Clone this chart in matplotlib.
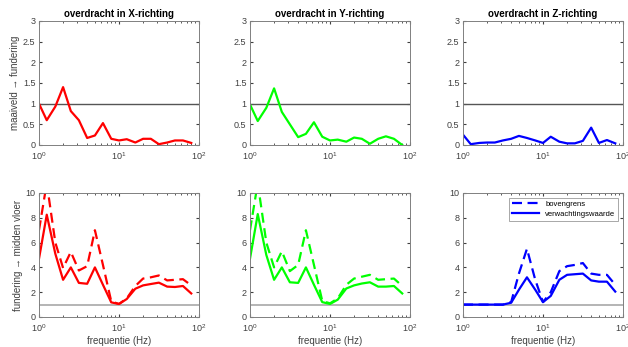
import matplotlib.pyplot as plt

plt.rcParams['font.family'] = ['Liberation Sans', 'DejaVu Sans']

# third-octave band centre frequencies (Hz)
freq = [1, 1.25, 1.6, 2, 2.5, 3.15, 4, 5, 6.3, 8, 10, 12.5, 16, 20, 25, 31.5, 40, 50, 63, 80]

# maaiveld -> fundering
top_x = [1.0, 0.6, 0.93, 1.4, 0.82, 0.6, 0.17, 0.23, 0.53, 0.15, 0.11, 0.14, 0.06, 0.15, 0.15, 0.02, 0.06, 0.11, 0.11, 0.05]
top_y = [0.98, 0.58, 0.9, 1.37, 0.8, 0.5, 0.19, 0.27, 0.55, 0.2, 0.11, 0.13, 0.08, 0.18, 0.15, 0.03, 0.15, 0.21, 0.15, 0.0]
top_z = [0.25, 0.02, 0.05, 0.06, 0.06, 0.11, 0.15, 0.22, 0.17, 0.11, 0.05, 0.2, 0.08, 0.04, 0.04, 0.1, 0.42, 0.05, 0.12, 0.04]

# fundering -> midden vloer: verwachtingswaarde (solid) and bovengrens (dashed)
verw_x = [4.7, 8.25, 5.1, 3.0, 4.0, 2.75, 2.68, 4.0, 2.6, 1.18, 1.05, 1.45, 2.28, 2.55, 2.66, 2.77, 2.45, 2.42, 2.5, 1.9]
bov_x = [7.0, 10.8, 6.0, 3.95, 5.25, 3.75, 4.1, 7.0, 4.2, 1.26, 1.05, 1.5, 2.5, 3.1, 3.2, 3.35, 2.95, 3.0, 3.05, 2.55]
verw_y = [4.7, 8.3, 5.0, 3.0, 4.0, 2.8, 2.75, 4.0, 2.6, 1.2, 1.05, 1.4, 2.3, 2.55, 2.7, 2.8, 2.45, 2.45, 2.5, 1.9]
bov_y = [7.0, 10.8, 6.0, 4.0, 5.3, 3.7, 4.2, 7.0, 4.2, 1.3, 1.1, 1.5, 2.6, 3.1, 3.25, 3.4, 3.0, 3.05, 3.1, 2.5]
verw_z = [1.0, 1.0, 1.0, 1.0, 1.0, 1.0, 1.15, 2.2, 3.2, 2.2, 1.2, 1.7, 3.0, 3.4, 3.45, 3.5, 2.95, 2.85, 2.85, 2.05]
bov_z = [1.0, 1.0, 1.0, 1.0, 1.0, 1.0, 1.2, 3.5, 5.5, 3.0, 1.2, 2.0, 3.7, 4.1, 4.2, 4.35, 3.5, 3.4, 3.4, 2.6]

titles = ['overdracht in X-richting', 'overdracht in Y-richting', 'overdracht in Z-richting']
colors = ['#ff0000', '#00ff00', '#0000ff']
tops = [top_x, top_y, top_z]
verws = [verw_x, verw_y, verw_z]
bovs = [bov_x, bov_y, bov_z]

W, H = 628, 347
fig = plt.figure(figsize=(W / 100, H / 100), dpi=100)
lefts = [39, 250, 463]


def style(ax):
    ax.set_xscale('log')
    ax.set_xlim(1, 100)
    ax.tick_params(which='both', direction='in', top=True, right=True,
                   labelsize=6.5, colors='#404040', length=2.5, pad=2.5)
    ax.tick_params(axis='x', which='major', pad=4)
    ax.tick_params(which='minor', length=1.5)
    for s in ax.spines.values():
        s.set_color('#808080')
        s.set_linewidth(0.7)


for i in range(3):
    ax = fig.add_axes([lefts[i] / W, (H - 145) / H, 160 / W, 124 / H])
    style(ax)
    ax.axhline(1, color='#555555', lw=1.0)
    ax.plot(freq, tops[i], color=colors[i], lw=1.6)
    ax.set_ylim(0, 3)
    ax.set_yticks([0, 0.5, 1, 1.5, 2, 2.5, 3])
    ax.set_yticklabels(['0', '0.5', '1', '1.5', '2', '2.5', '3'])
    ax.set_title(titles[i], fontsize=7, fontweight='bold', pad=3)
    if i == 0:
        ax.set_ylabel('maaiveld \u2192 fundering', fontsize=7, color='#404040', labelpad=2)

    ax = fig.add_axes([lefts[i] / W, (H - 317) / H, 160 / W, 124 / H])
    style(ax)
    ax.axhline(1, color='#b4b4b4', lw=1.4)
    ax.plot(freq, bovs[i], color=colors[i], lw=1.6, ls=(0, (4.5, 2.5)), label='bovengrens')
    ax.plot(freq, verws[i], color=colors[i], lw=1.6, label='verwachtingswaarde')
    ax.set_ylim(0, 10)
    ax.set_yticks([0, 2, 4, 6, 8, 10])
    ax.set_xlabel('frequentie (Hz)', fontsize=7, color='#404040', labelpad=1)
    if i == 0:
        ax.set_ylabel('fundering \u2192 midden vloer', fontsize=7, color='#404040', labelpad=2)
    if i == 2:
        leg = ax.legend(loc='upper right', fontsize=5.5, frameon=True, fancybox=False,
                        handlelength=3.5, borderaxespad=0.6, labelspacing=0.3)
        leg.get_frame().set_edgecolor('#808080')
        leg.get_frame().set_linewidth(0.6)

fig.savefig('out.png', dpi=100)
